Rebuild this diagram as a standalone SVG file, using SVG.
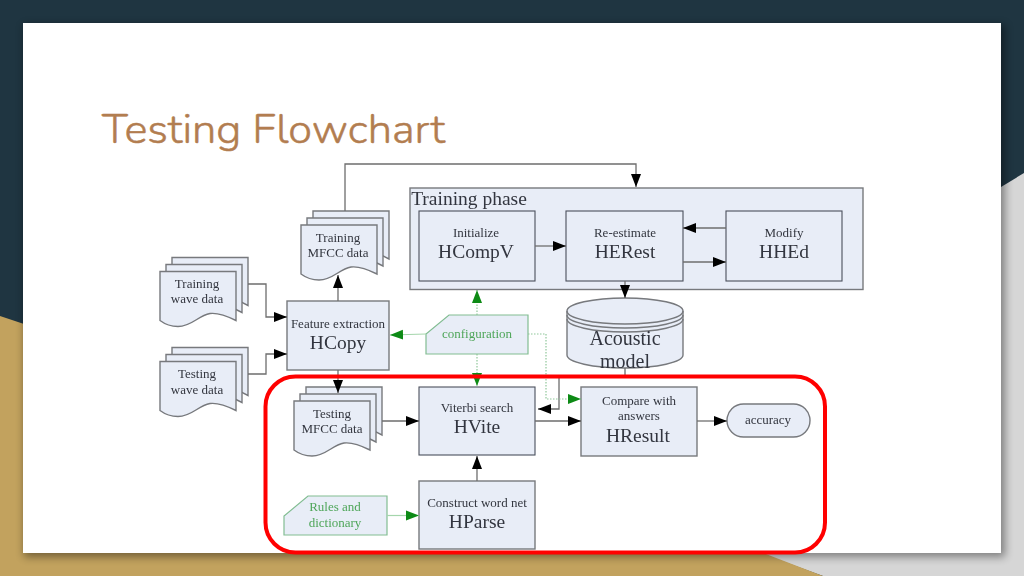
<svg xmlns="http://www.w3.org/2000/svg" width="1024" height="576" viewBox="0 0 1024 576">
<style>
.bx{fill:#e8edf7;stroke:#77797d;stroke-width:1.4}
.in{fill:#e8edf7;stroke:#4a4f5c;stroke-width:1.1}
.gn{fill:#e8edf7;stroke:#82bd92;stroke-width:1.2}
text{font-family:"Liberation Serif","Times New Roman",serif;fill:#33363f;text-anchor:middle}
.s{font-size:13px}
.b{font-size:19.500px}
.g{font-size:13px;fill:#4fa65a}
.c{fill:none;stroke:#6e6e6e;stroke-width:1.3}
.gc{fill:none;stroke:#a5d6ac;stroke-width:1.2}
.gd{fill:none;stroke:#8fc79a;stroke-width:1.2;stroke-dasharray:1.5 1.5}
</style>
<defs>
<filter id="sh" x="-5%" y="-5%" width="110%" height="110%"><feGaussianBlur stdDeviation="4"/></filter>
<filter id="soft" x="-2%" y="-2%" width="104%" height="104%"><feGaussianBlur stdDeviation="0.35"/></filter>
<marker id="a" markerUnits="userSpaceOnUse" markerWidth="13" markerHeight="12" refX="13" refY="6" orient="auto"><path d="M0 1L13 6L0 11Z" fill="#000"/></marker>
<marker id="g" markerUnits="userSpaceOnUse" markerWidth="13" markerHeight="12" refX="13" refY="6" orient="auto"><path d="M0 1L13 6L0 11Z" fill="#0a8a12"/></marker>
<g id="stack">
<path class="bx" d="M12-14H88V34L82 31L70 20H12Z"/>
<path class="bx" d="M6-7H82V41L76 38L60 30H6Z"/>
<path class="bx" d="M0 0H76V49C66 44 58 41 50 42C38 44 32 55 18 55C10 55 4 52 0 49Z"/>
</g>
</defs>
<g id="background">
<rect width="1024" height="576" fill="#1f3541"/>
<path d="M1024 173L1001 187L960 576H1024Z" fill="#d6d6d6"/>
<path d="M0 316L60 336V576H0Z" fill="#c2a25e"/>
<path d="M760 553H1024V576H823Z" fill="#d6d6d6"/>
<path d="M0 540H730L823 576H0Z" fill="#c2a25e"/>
<rect x="24" y="25" width="981" height="532" fill="#000" opacity="0.4" filter="url(#sh)"/>
<rect x="23" y="23" width="978" height="530" fill="#fff"/>
</g>
<text id="title" x="102" y="143" style="font-family:'Nunito','Lato','Noto Sans',sans-serif;font-size:41px;font-weight:300;fill:#b27d50;stroke:#b27d50;stroke-width:0.5;text-anchor:start" textLength="343" lengthAdjust="spacingAndGlyphs">Testing Flowchart</text>
<g id="diagram" filter="url(#soft)">
<g id="training-phase"><rect class="bx" x="410" y="188" width="453" height="101.500"/><text x="469" y="205" style="font-size:19.500px">Training phase</text></g>
<g id="training-wave"><use href="#stack" transform="translate(160 271.500)"/><text class="s" x="197" y="288">Training</text><text class="s" x="197" y="303">wave data</text></g>
<g id="testing-wave"><use href="#stack" transform="translate(160 361.500)"/><text class="s" x="197" y="378">Testing</text><text class="s" x="197" y="394">wave data</text></g>
<g id="training-mfcc"><use href="#stack" transform="translate(301 225)"/><text class="s" x="338" y="242">Training</text><text class="s" x="338" y="257">MFCC data</text></g>
<g id="testing-mfcc"><use href="#stack" transform="translate(294 401)"/><text class="s" x="332" y="418">Testing</text><text class="s" x="332" y="433">MFCC data</text></g>
<g id="hcopy"><rect class="bx" x="287" y="301" width="102" height="69"/><text class="s" x="338" y="328">Feature extraction</text><text class="b" x="338" y="349">HCopy</text></g>
<g id="hcompv"><rect class="in" x="419" y="211" width="116" height="70"/><text class="s" x="476" y="237">Initialize</text><text class="b" x="476" y="258">HCompV</text></g>
<g id="herest"><rect class="in" x="566" y="211" width="117" height="70"/><text class="s" x="625" y="237">Re-estimate</text><text class="b" x="625" y="258">HERest</text></g>
<g id="hhed"><rect class="in" x="726" y="211" width="116" height="70"/><text class="s" x="784" y="237">Modify</text><text class="b" x="784" y="258">HHEd</text></g>
<g id="acoustic-model">
<path class="bx" d="M567 311A58 13 0 0 1 683 311V355A58 13 0 0 1 567 355Z"/>
<path class="bx" style="fill:none" d="M567 311A58 13 0 0 0 683 311M567 315A58 13 0 0 0 683 315M567 319A58 13 0 0 0 683 319"/>
<text x="625" y="345" style="font-size:20px">Acoustic</text><text x="625" y="368" style="font-size:20px">model</text>
</g>
<g id="configuration"><path class="gn" d="M449 315H528V354H426V334Z"/><text class="g" x="477" y="338">configuration</text></g>
<g id="hvite"><rect class="in" x="419" y="387" width="116" height="68"/><text class="s" x="477" y="412">Viterbi search</text><text class="b" x="477" y="433">HVite</text></g>
<g id="hresult"><rect class="bx" x="581" y="387" width="116" height="69"/><text class="s" x="639" y="405">Compare with</text><text class="s" x="639" y="420">answers</text><text class="b" x="638" y="442">HResult</text></g>
<g id="accuracy"><rect class="bx" x="727" y="404" width="83" height="33" rx="16.500"/><text class="s" x="768" y="424">accuracy</text></g>
<g id="rules"><path class="gn" d="M308 496H387V535H284V516Z"/><text class="g" x="335" y="511">Rules and</text><text class="g" x="335" y="527">dictionary</text></g>
<g id="hparse"><rect class="bx" x="419" y="481" width="116" height="68"/><text class="s" x="477" y="507">Construct word net</text><text class="b" x="477" y="528">HParse</text></g>
<g id="connectors">
<path class="c" d="M345 211V164H636V187" marker-end="url(#a)"/>
<path class="c" d="M338 301V275" marker-end="url(#a)"/>
<path class="c" d="M248 284H266V317H287" marker-end="url(#a)"/>
<path class="c" d="M248 374H266V354H287" marker-end="url(#a)"/>
<path class="c" d="M338 370V393" marker-end="url(#a)"/>
<path class="c" d="M535 246H566" marker-end="url(#a)"/>
<path class="c" d="M726 228H683" marker-end="url(#a)"/>
<path class="c" d="M683 262H726" marker-end="url(#a)"/>
<path class="c" d="M625 281V298" marker-end="url(#a)"/>
<path class="c" d="M625 368V376H559V409H538" marker-end="url(#a)"/>
<path class="c" d="M382 421H419" marker-end="url(#a)"/>
<path class="c" d="M535 421H581" marker-end="url(#a)"/>
<path class="c" d="M697 421H727" marker-end="url(#a)"/>
<path class="c" d="M477 481V456" marker-end="url(#a)"/>
<path class="gc" d="M426 334L390 335" marker-end="url(#g)"/>
<path class="gd" d="M477 315V290" marker-end="url(#g)"/>
<path class="gd" d="M477 354V386" marker-end="url(#g)"/>
<path class="gd" d="M528 334H546V399H581" marker-end="url(#g)"/>
<path class="gc" d="M387 515.500H419" marker-end="url(#g)"/>
</g>
</g>
<rect id="highlight" x="265.500" y="376.500" width="559.500" height="176" rx="30" fill="none" stroke="#ff0000" stroke-width="4"/>
</svg>
